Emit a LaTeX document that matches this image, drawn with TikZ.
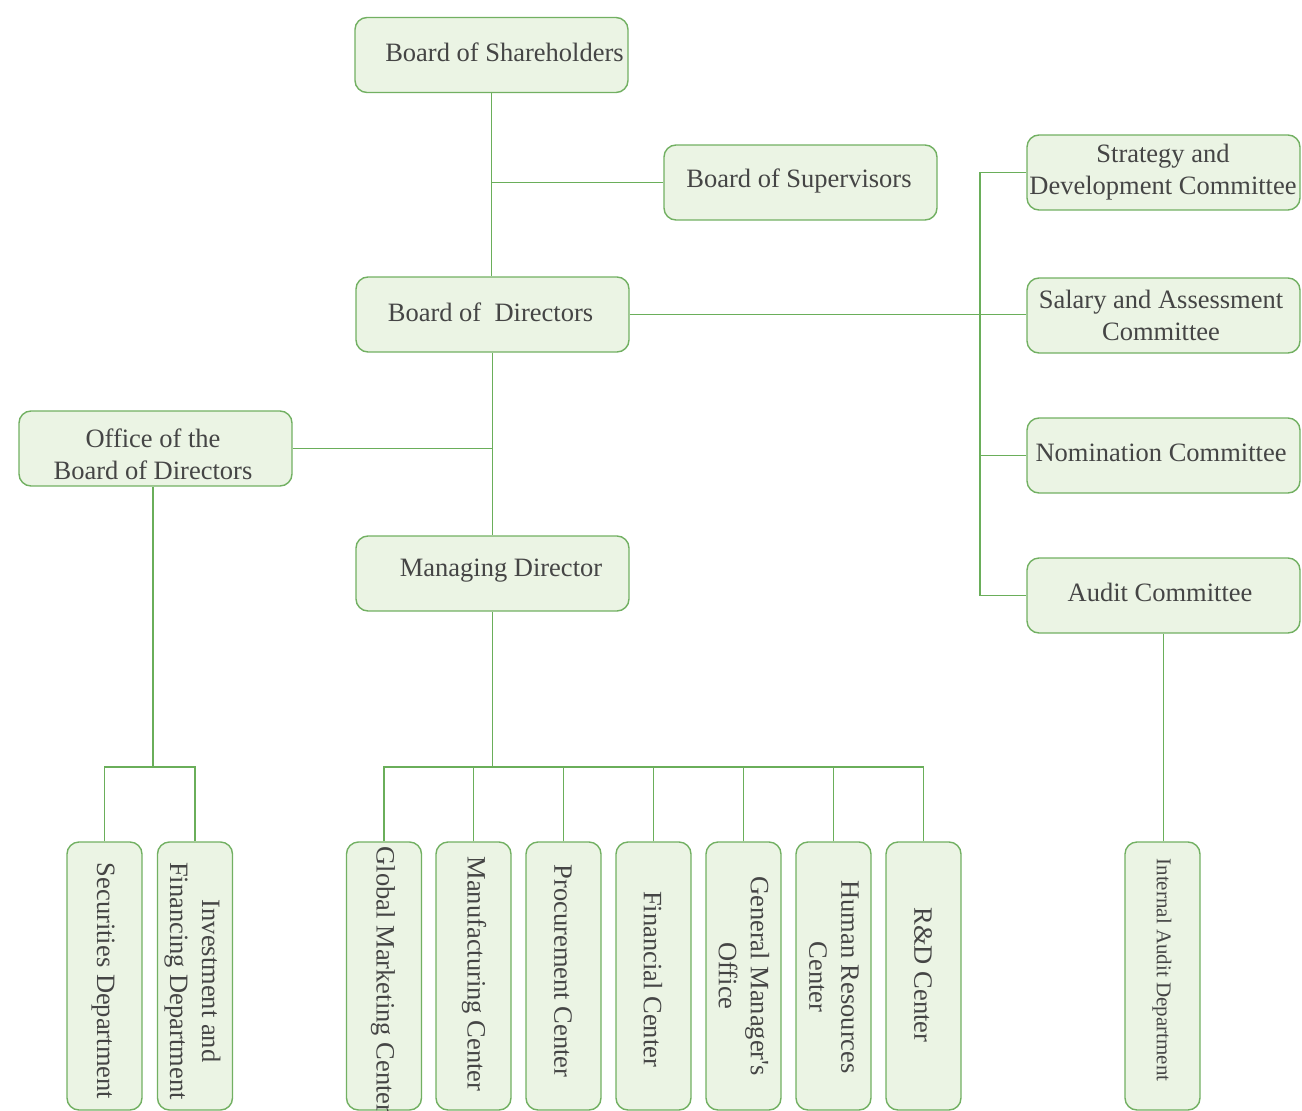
\documentclass[tikz,border=0pt]{standalone}
\usepackage{fontspec}
\setmainfont{Liberation Serif}
\definecolor{boxline}{HTML}{72B062}
\definecolor{boxfill}{HTML}{EBF4E4}
\definecolor{linkgreen}{HTML}{6AAE5A}
\definecolor{txtgray}{HTML}{454545}
\tikzset{
  box/.style={draw=boxline, fill=boxfill, rounded corners=12pt, line width=1.4pt,
    minimum width=273pt, minimum height=75pt, inner sep=0pt},
  vbox/.style={box, minimum width=75pt, minimum height=268pt},
  txt/.style={text=txtgray, font=\fontsize{26.5}{32}\selectfont, align=center, inner sep=0pt},
  smalltxt/.style={txt, font=\fontsize{21}{25}\selectfont},
  link/.style={draw=linkgreen, line width=1.2pt},
}
\begin{document}
\begin{tikzpicture}[x=1pt,y=-1pt]
\useasboundingbox (0,0) rectangle (1302,1111);
\begin{scope}
\clip (0,0) rectangle (1302,1111);

% upper governance boxes
\node[box] (sh) at (491.5,55) {};
\node[box] (sv) at (800.5,182.5) {};
\node[box] (bd) at (492.5,314.5) {};
\node[box] (of) at (155.5,448.5) {};
\node[box] (md) at (492.5,573.5) {};

% committees
\node[box] (st) at (1163.5,172.5) {};
\node[box] (sa) at (1163.5,315.5) {};
\node[box] (no) at (1163.5,455.5) {};
\node[box] (au) at (1163.5,595.5) {};

% departments and centers
\node[vbox] (se) at (104.5,976) {};
\node[vbox] (iv) at (195,976) {};
\node[vbox] (gl) at (384,976) {};
\node[vbox] (mf) at (473.5,976) {};
\node[vbox] (pc) at (563.5,976) {};
\node[vbox] (fc) at (653.5,976) {};
\node[vbox] (go) at (743.5,976) {};
\node[vbox] (hr) at (833.5,976) {};
\node[vbox] (rd) at (923.5,976) {};
\node[vbox] (ia) at (1162.5,976) {};

% labels
\node[txt] (tsh) at (504.5,52) {Board of Shareholders};
\node[txt] (tsv) at (799,181) {Board of Supervisors};
\node[txt] (tbd) at (490.5,312) {Board of\ \ Directors};
\node[txt] (tof) at (153,454) {Office of the\\Board of Directors};
\node[txt] (tmd) at (501,571) {Managing Director};
\node[txt] (tst) at (1163,172.5) {Strategy and\\Development Committee};
\node[txt] (tsa) at (1161,315.5) {Salary and Assessment\\Committee};
\node[txt] (tno) at (1161,453) {Nomination Committee};
\node[txt] (tau) at (1160,592) {Audit Committee};

\node[txt, rotate=-90] (tse) at (103,981) {Securities Department};
\node[txt, rotate=-90] (tiv) at (192.5,981) {Investment and\\Financing Department};
\node[txt, rotate=-90] (tgl) at (383,980) {Global Marketing Center};
\node[txt, rotate=-90] (tmf) at (474,974) {Manufacturing Center};
\node[txt, rotate=-90] (tpc) at (563,971) {Procurement Center};
\node[txt, rotate=-90] (tfc) at (653,979) {Financial Center};
\node[txt, rotate=-90] (tgo) at (744,976) {General Manager\textquotesingle s\\Office};
\node[txt, rotate=-90] (thr) at (834,977) {Human Resources\\Center};
\node[txt, rotate=-90] (trd) at (923,975) {R\&D Center};
\node[smalltxt, rotate=-90] (tia) at (1162,970) {Internal Audit Department};

% bus lines
\coordinate (cbus) at (980,0);
\coordinate (lbus) at (0,767);
\coordinate (ofdrop) at (153,0);

% connectors
\draw[link] (sh.south) -- (sh.south |- bd.north);
\draw[link] (sh.south |- sv.west) -- (sv.west);
\draw[link] (bd.east) -- (bd.east -| sa.west);
\draw[link] (st.west) -- (st.west -| cbus) -- (au.west -| cbus) -- (au.west);
\draw[link] (no.west) -- (no.west -| cbus);
\draw[link] (bd.south) -- (md.north);
\draw[link] (of.east) -- (of.east -| bd.south);
\draw[link] (of.south -| ofdrop) -- (ofdrop |- lbus);
\draw[link] (se.north) -- (se.north |- lbus) -- (iv.north |- lbus) -- (iv.north);
\draw[link] (md.south) -- (md.south |- lbus);
\draw[link] (gl.north) -- (gl.north |- lbus) -- (rd.north |- lbus) -- (rd.north);
\foreach \n in {mf,pc,fc,go,hr}
  \draw[link] (\n.north) -- (\n.north |- lbus);
\draw[link] (au.south) -- (au.south |- ia.north);
\end{scope}
\end{tikzpicture}
\end{document}
